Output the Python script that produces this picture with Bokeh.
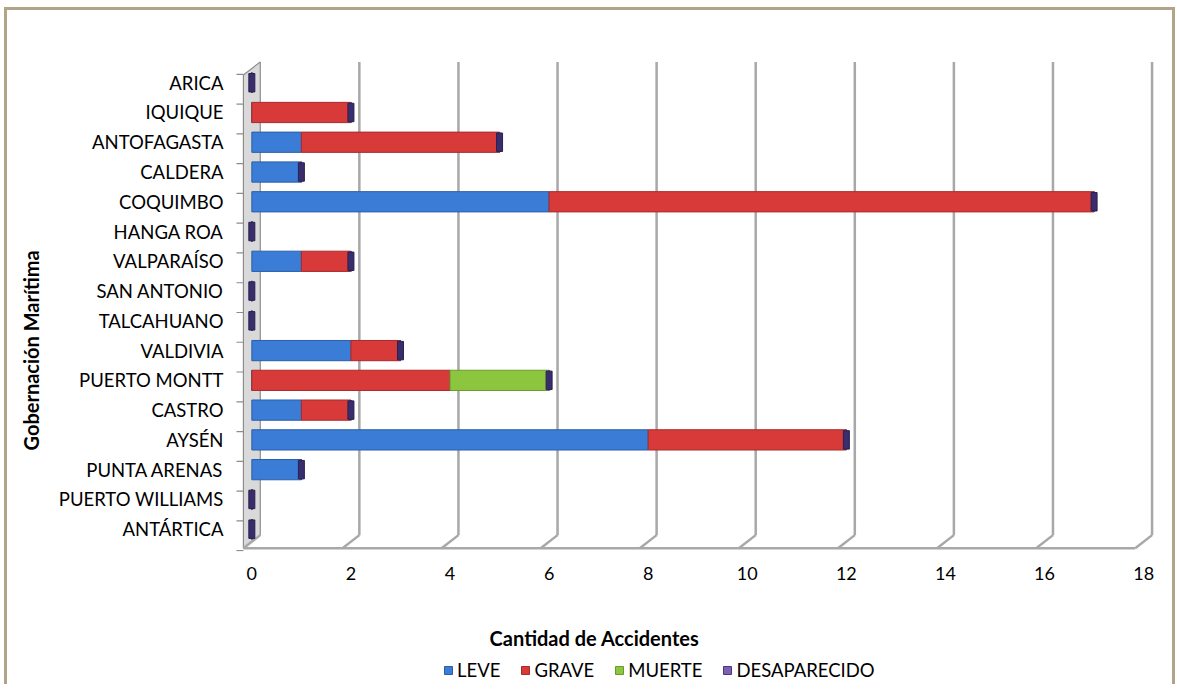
from bokeh.plotting import figure
from bokeh.models import ColumnDataSource, FixedTicker, Legend, LegendItem, Range1d, Title, Label
from bokeh.layouts import column
from bokeh.embed import file_html
from bokeh.resources import INLINE

# ---------------- data ----------------
categories = ["ARICA", "IQUIQUE", "ANTOFAGASTA", "CALDERA", "COQUIMBO", "HANGA ROA",
              "VALPARAÍSO", "SAN ANTONIO", "TALCAHUANO", "VALDIVIA", "PUERTO MONTT",
              "CASTRO", "AYSÉN", "PUNTA ARENAS", "PUERTO WILLIAMS", "ANTÁRTICA"]
leve = [0, 0, 1, 1, 6, 0, 1, 0, 0, 2, 0, 1, 8, 1, 0, 0]
grave = [0, 2, 4, 0, 11, 0, 1, 0, 0, 1, 4, 1, 4, 0, 0, 0]
muerte = [0, 0, 0, 0, 0, 0, 0, 0, 0, 0, 2, 0, 0, 0, 0, 0]
desaparecido = [0, 0, 0, 0, 0, 0, 0, 0, 0, 0, 0, 0, 0, 0, 0, 0]
series = ["LEVE", "GRAVE", "MUERTE", "DESAPARECIDO"]
x_ticks = [0, 2, 4, 6, 8, 10, 12, 14, 16, 18]
x_title = "Cantidad de Accidentes"
y_title = "Gobernación Marítima"

# ---------------- styling ----------------
colors = ["#3b7dd6", "#d83a3a", "#8cc63f", "#7f5fb1"]
edges = ["#2a5ea8", "#a82a2a", "#6a9a2c", "#4a3580"]
FONT = "Lato"
GRID = "#a8a8a8"
DX, DY = 0.17, 0.22  # 3D depth offset (data units)

n = len(categories)
ypos = [n - 1 - i for i in range(n)]
totals = [a + b + c + d for a, b, c, d in zip(leve, grave, muerte, desaparecido)]

src = ColumnDataSource(dict(y=ypos, cat=categories, total=totals,
                            LEVE=leve, GRAVE=grave, MUERTE=muerte, DESAPARECIDO=desaparecido))

W = 1165
p = figure(width=W, height=590, output_backend="svg", toolbar_location=None,
           x_range=Range1d(-0.35, 18.3), y_range=Range1d(-0.75, 15.78),
           min_border_left=224, min_border_right=14, min_border_top=49, min_border_bottom=49)
p.outline_line_color = None
p.xgrid.grid_line_color = None
p.ygrid.grid_line_color = None
p.background_fill_color = "white"
p.border_fill_color = "white"

# ---- 3D wall and floor decorations ----
y_floor = min(ypos) - 0.42
y_top = max(ypos) + 0.48
p.patch(x=[-DX, DX, DX, -DX], y=[y_floor - DY, y_floor + DY, y_top + DY, y_top - DY],
        fill_color="#d9d9d9", line_color="#8c8c8c", line_width=1.2)
gx = [k + DX for k in x_ticks if k > 0]
p.segment(x0=gx, y0=[y_floor + DY] * len(gx), x1=gx, y1=[y_top + DY] * len(gx),
          line_color=GRID, line_width=2.5)
p.segment(x0=[-DX], y0=[y_floor - DY], x1=[max(x_ticks) - DX], y1=[y_floor - DY],
          line_color=GRID, line_width=2.5)
p.segment(x0=[k - DX for k in x_ticks], y0=[y_floor - DY] * len(x_ticks),
          x1=[k + DX for k in x_ticks], y1=[y_floor + DY] * len(x_ticks),
          line_color=GRID, line_width=2.5)
bnd = [i + 0.5 - DY for i in range(-1, n)]
p.segment(x0=[-DX - 0.14] * len(bnd), y0=bnd, x1=[-DX] * len(bnd), y1=bnd,
          line_color="#8c8c8c", line_width=1.2)

# ---- bars ----
rs = p.hbar_stack(series, y="y", height=0.68, color=colors, line_color=edges,
                  line_width=1, source=src)
p.rect(x="total", y="y", width=6, width_units="screen", height=0.62,
       fill_color="#3a2d6c", line_color="#2a2050", source=src)

# ---- axes ----
xa = p.xaxis[0]
xa.ticker = FixedTicker(ticks=x_ticks)
xa.axis_line_color = None
xa.major_tick_line_color = None
xa.minor_tick_line_color = None
xa.major_tick_out = 0
xa.major_label_standoff = 15
xa.major_label_text_font = FONT
xa.major_label_text_font_size = "18px"
xa.major_label_text_color = "black"

ya = p.yaxis[0]
ya.ticker = FixedTicker(ticks=ypos)
ya.major_label_overrides = {y: c for y, c in zip(ypos, categories)}
ya.axis_line_color = None
ya.major_tick_line_color = None
ya.minor_tick_line_color = None
ya.major_tick_out = 0
ya.major_label_standoff = 11
ya.major_label_text_font = FONT
ya.major_label_text_font_size = "18.5px"
ya.major_label_text_color = "black"

p.add_layout(Title(text=y_title, align="left", offset=101, standoff=22,
                   vertical_align="top", text_font=FONT, text_font_size="20px",
                   text_font_style="bold", text_color="black"), "left")

# ---- footer: axis title + legend (frame aligned with the main plot) ----
H2 = 84
p2 = figure(width=W, height=H2, output_backend="svg", toolbar_location=None,
            x_range=Range1d(-0.35, 18.3), y_range=Range1d(-100, -16),
            min_border_left=224, min_border_right=14, min_border_top=0, min_border_bottom=0,
            x_axis_type=None, y_axis_type=None)
p2.outline_line_color = None
p2.xgrid.grid_line_color = None
p2.ygrid.grid_line_color = None
p2.add_layout(Label(x=360, y=47, x_units="screen", y_units="screen", text=x_title,
                    text_align="center", text_baseline="middle", text_font=FONT,
                    text_font_size="20px", text_font_style="bold", text_color="black"))
# same stacked series, hidden, only to feed the legend swatches
rs2 = p2.hbar_stack(series, y="y", height=0.68, color=colors, line_color=edges,
                    line_width=1, source=src)
for r in rs2:
    r.visible = False
legend = Legend(items=[LegendItem(label=s, renderers=[r]) for s, r in zip(series, rs2)],
                orientation="horizontal", location=(209, 3),
                label_text_font=FONT, label_text_font_size="18.5px", label_text_color="black",
                glyph_width=10, glyph_height=10, label_standoff=4, spacing=20,
                padding=0, margin=0, border_line_color=None, background_fill_alpha=0,
                inactive_fill_alpha=0)
p2.add_layout(legend, "center")

layout = column(p, p2, spacing=0)
layout.styles = {"border-left": "3px solid #b2a486", "border-top": "3px solid #b2a486",
                 "border-right": "3px solid #b2a486", "margin-left": "4px", "margin-top": "7px"}

open("out.html", "w").write(file_html(layout, INLINE))
